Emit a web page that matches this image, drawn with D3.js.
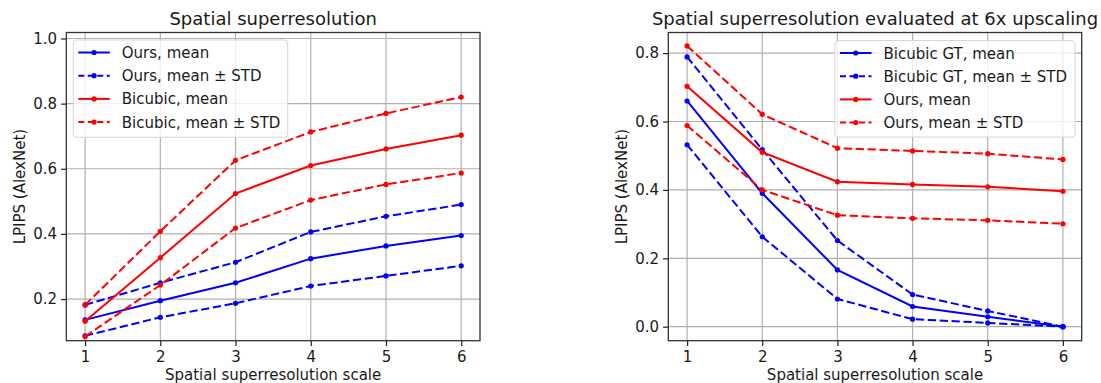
<!DOCTYPE html>
<html>
<head>
<meta charset="utf-8">
<script src="https://cdn.jsdelivr.net/npm/d3@7"></script>
<style>
  body { margin: 0; background: #fff; }
  svg { display: block; font-family: "DejaVu Sans", sans-serif; }
</style>
</head>
<body>
<div class="chart"></div>
<script>
// x values shared by both panels
const scales = [1, 2, 3, 4, 5, 6];

// Left panel: Spatial superresolution
const leftOursMean     = [0.136, 0.195, 0.250, 0.324, 0.363, 0.395];
const leftOursUpper    = [0.182, 0.250, 0.313, 0.406, 0.454, 0.490];
const leftOursLower    = [0.087, 0.144, 0.187, 0.240, 0.271, 0.302];
const leftBicubicMean  = [0.132, 0.327, 0.524, 0.610, 0.661, 0.703];
const leftBicubicUpper = [0.182, 0.408, 0.626, 0.713, 0.770, 0.820];
const leftBicubicLower = [0.085, 0.243, 0.418, 0.504, 0.552, 0.587];

// Right panel: evaluated at 6x upscaling
const rightGtMean     = [0.660, 0.390, 0.166, 0.059, 0.029, 0.000];
const rightGtUpper    = [0.789, 0.518, 0.252, 0.094, 0.046, 0.000];
const rightGtLower    = [0.532, 0.263, 0.081, 0.022, 0.011, 0.000];
const rightOursMean   = [0.703, 0.510, 0.424, 0.416, 0.409, 0.396];
const rightOursUpper  = [0.821, 0.621, 0.522, 0.514, 0.506, 0.489];
const rightOursLower  = [0.588, 0.400, 0.326, 0.317, 0.311, 0.301];

const leftYTicks = [0.2, 0.4, 0.6, 0.8, 1.0];
const rightYTicks = [0.0, 0.2, 0.4, 0.6, 0.8];

const leftLegend = ["Ours, mean", "Ours, mean \u00b1 STD", "Bicubic, mean", "Bicubic, mean \u00b1 STD"];
const rightLegend = ["Bicubic GT, mean", "Bicubic GT, mean \u00b1 STD", "Ours, mean", "Ours, mean \u00b1 STD"];

const width = 1101;
const height = 383;
const dash = "8.3,3.6";

const svg = d3.select(".chart").append("svg")
  .attr("width", width)
  .attr("height", height);

drawPanel({
  x0: 66.3, x1: 480, y0: 32.5, y1: 340.7,
  ydomain: [0.0721, 1.0184],
  yticks: leftYTicks,
  title: "Spatial superresolution",
  series: [
    { values: leftOursMean, color: "#0000ff", dashed: false },
    { values: leftOursUpper, color: "#0000ff", dashed: true },
    { values: leftOursLower, color: "#0000ff", dashed: true },
    { values: leftBicubicMean, color: "#ff0000", dashed: false },
    { values: leftBicubicUpper, color: "#ff0000", dashed: true },
    { values: leftBicubicLower, color: "#ff0000", dashed: true },
  ],
  legend: leftLegend,
  legendBox: { x: 73.3, y: 40, w: 214.4, h: 97.3 },
});

drawPanel({
  x0: 668.3, x1: 1081.7, y0: 32.5, y1: 340.7,
  ydomain: [-0.041, 0.8603],
  yticks: rightYTicks,
  title: "Spatial superresolution evaluated at 6x upscaling",
  series: [
    { values: rightGtMean, color: "#0000ff", dashed: false },
    { values: rightGtUpper, color: "#0000ff", dashed: true },
    { values: rightGtLower, color: "#0000ff", dashed: true },
    { values: rightOursMean, color: "#ff0000", dashed: false },
    { values: rightOursUpper, color: "#ff0000", dashed: true },
    { values: rightOursLower, color: "#ff0000", dashed: true },
  ],
  legend: rightLegend,
  legendBox: { x: 835, y: 40.5, w: 240, h: 96.5 },
});

function drawPanel(p) {
  const x = d3.scaleLinear().domain([0.75, 6.25]).range([p.x0, p.x1]);
  const y = d3.scaleLinear().domain(p.ydomain).range([p.y1, p.y0]);
  const g = svg.append("g");

  // grid
  g.append("g").selectAll("line.vgrid").data(scales).join("line")
    .attr("x1", d => x(d)).attr("x2", d => x(d))
    .attr("y1", p.y0).attr("y2", p.y1)
    .attr("stroke", "#b0b0b0").attr("stroke-width", 1.2);
  g.append("g").selectAll("line.hgrid").data(p.yticks).join("line")
    .attr("x1", p.x0).attr("x2", p.x1)
    .attr("y1", d => y(d)).attr("y2", d => y(d))
    .attr("stroke", "#b0b0b0").attr("stroke-width", 1.2);

  // lines
  const line = d3.line().x((d, i) => x(scales[i])).y(d => y(d));
  const plot = g.append("g");
  for (const s of p.series) {
    plot.append("path")
      .attr("d", line(s.values))
      .attr("fill", "none")
      .attr("stroke", s.color)
      .attr("stroke-width", 2)
      .attr("stroke-dasharray", s.dashed ? dash : null);
    plot.selectAll(null).data(s.values).join("circle")
      .attr("cx", (d, i) => x(scales[i]))
      .attr("cy", d => y(d))
      .attr("r", 2.6)
      .attr("fill", s.color);
  }

  // frame
  g.append("rect")
    .attr("x", p.x0).attr("y", p.y0)
    .attr("width", p.x1 - p.x0).attr("height", p.y1 - p.y0)
    .attr("fill", "none").attr("stroke", "#333").attr("stroke-width", 1.3);

  // axes
  const xAxis = g.append("g")
    .attr("transform", `translate(0,${p.y1})`)
    .call(d3.axisBottom(x).tickValues(scales).tickFormat(d3.format("d")).tickSize(5.25).tickPadding(5));
  const yAxis = g.append("g")
    .attr("transform", `translate(${p.x0},0)`)
    .call(d3.axisLeft(y).tickValues(p.yticks).tickFormat(d3.format(".1f")).tickSize(5.25).tickPadding(4));
  for (const ax of [xAxis, yAxis]) {
    ax.select(".domain").remove();
    ax.selectAll(".tick line").attr("stroke", "#222").attr("stroke-width", 1.2);
    ax.selectAll(".tick text")
      .attr("fill", "#1a1a1a")
      .style("font-family", "DejaVu Sans")
      .style("font-size", "15px");
  }

  // title & labels
  g.append("text")
    .attr("x", (p.x0 + p.x1) / 2).attr("y", 25)
    .attr("text-anchor", "middle")
    .attr("fill", "#1a1a1a")
    .style("font-size", "18px")
    .text(p.title);
  g.append("text")
    .attr("x", (p.x0 + p.x1) / 2).attr("y", 380)
    .attr("text-anchor", "middle")
    .attr("fill", "#1a1a1a")
    .style("font-size", "15px")
    .text("Spatial superresolution scale");
  g.append("text")
    .attr("transform", `translate(${p.x0 - 41},${(p.y0 + p.y1) / 2}) rotate(-90)`)
    .attr("text-anchor", "middle")
    .attr("fill", "#1a1a1a")
    .style("font-size", "15px")
    .text("LPIPS (AlexNet)");

  // legend
  const lb = p.legendBox;
  const legend = g.append("g");
  legend.append("rect")
    .attr("x", lb.x).attr("y", lb.y)
    .attr("width", lb.w).attr("height", lb.h)
    .attr("rx", 3)
    .attr("fill", "#fff").attr("fill-opacity", 0.8)
    .attr("stroke", "#d6d6d6").attr("stroke-width", 1);
  const rows = p.legend.map((label, i) => ({ label, s: p.series[i === 0 ? 0 : i === 1 ? 1 : i === 2 ? 3 : 4] }));
  rows.forEach((r, i) => {
    const cy = lb.y + 12.5 + i * 23.2;
    const lx = lb.x + 5;
    legend.append("line")
      .attr("x1", lx).attr("x2", lx + 31.5)
      .attr("y1", cy).attr("y2", cy)
      .attr("stroke", r.s.color).attr("stroke-width", 2)
      .attr("stroke-dasharray", r.s.dashed ? "6,3.5" : null);
    legend.append("circle")
      .attr("cx", lx + 15.75).attr("cy", cy).attr("r", 2.6)
      .attr("fill", r.s.color);
    legend.append("text")
      .attr("x", lb.x + 48.5).attr("y", cy + 5.5)
      .attr("fill", "#1a1a1a")
      .style("font-size", "15px")
      .text(r.label);
  });
}
</script>
</body>
</html>
